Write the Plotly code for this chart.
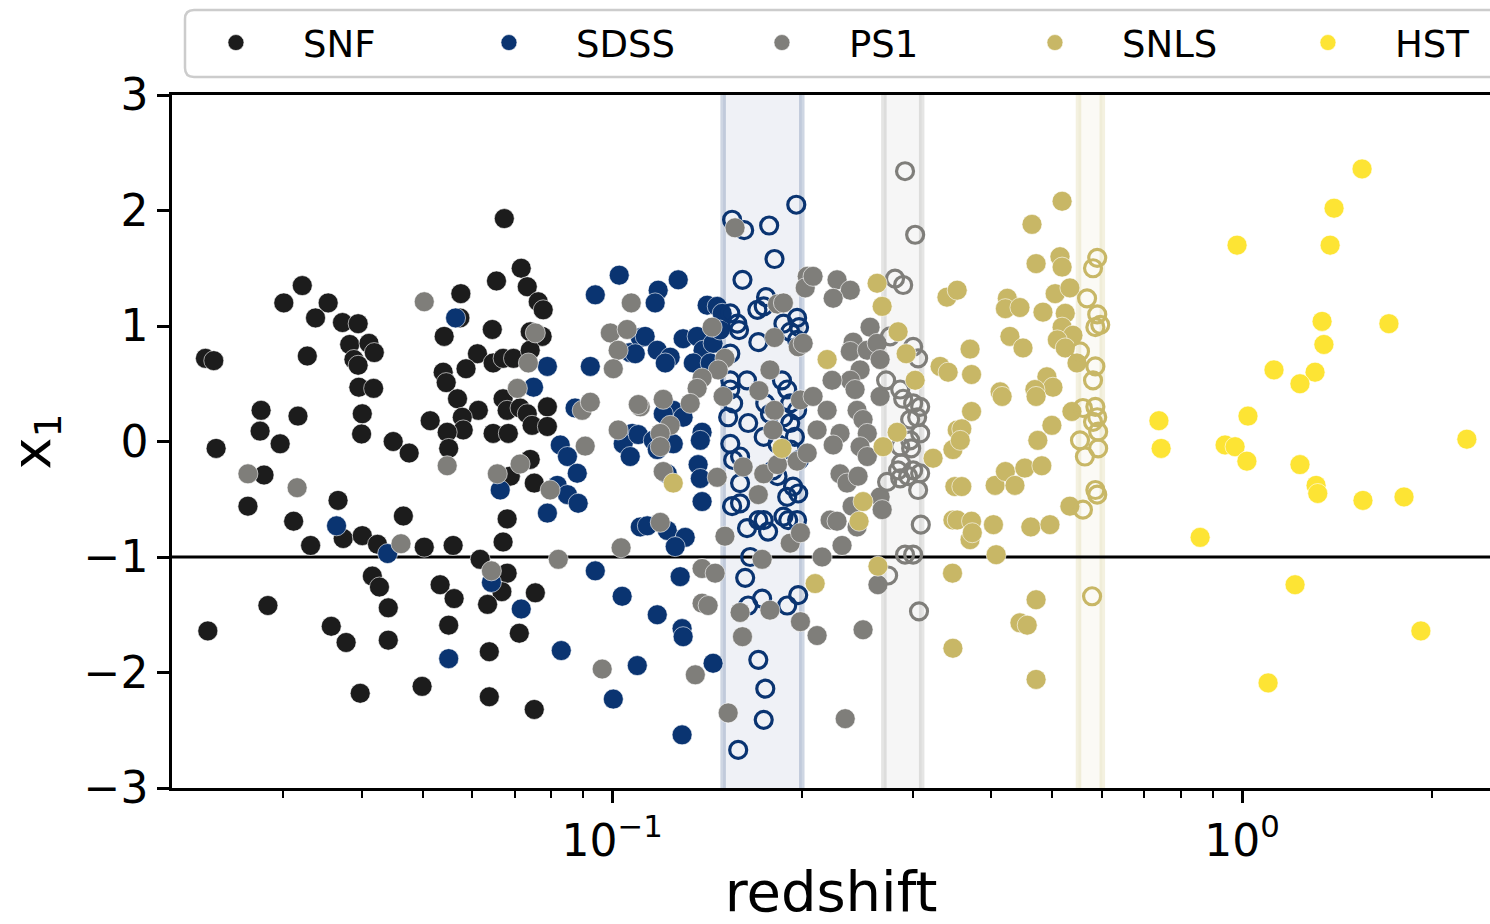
import math
import numpy as np
import plotly.graph_objects as go

# ---- survey data: redshift and SALT2 stretch x1 ----
snf_z = [0.0322, 0.0301, 0.0354, 0.0338, 0.0373, 0.0395, 0.0383, 0.0411, 0.0419, 0.0389,
         0.0395, 0.0226, 0.0233, 0.0328, 0.0396, 0.0418, 0.0277, 0.0317, 0.0401, 0.0276,
         0.0400, 0.0297, 0.0235, 0.0449, 0.0476, 0.0280, 0.0264, 0.0367, 0.0466, 0.0312,
         0.0374, 0.0401, 0.0332, 0.0424, 0.0503, 0.0416, 0.0427, 0.0284, 0.0441, 0.0228,
         0.0358, 0.0378, 0.0441, 0.0398, 0.0499, 0.0674, 0.0717, 0.0655, 0.0733, 0.0763,
         0.0777, 0.0575, 0.0573, 0.0541, 0.0645, 0.0741, 0.0774, 0.0611, 0.0586, 0.0647,
         0.0671, 0.0697, 0.0741, 0.0539, 0.0545, 0.0568, 0.0613, 0.0671, 0.0681, 0.0714,
         0.0733, 0.0789, 0.0514, 0.0578, 0.0580, 0.0547, 0.0647, 0.0684, 0.0746, 0.0789,
         0.0550, 0.0689, 0.0741, 0.0752, 0.0681, 0.0559, 0.0671, 0.0617, 0.0681, 0.0668,
         0.0533, 0.0561, 0.0634, 0.0755, 0.0550, 0.0712, 0.0638, 0.0638, 0.0752]
snf_x1 = [1.35, 1.20, 1.20, 1.07, 1.03, 1.02, 0.84, 0.85, 0.77, 0.71,
          0.66, 0.72, 0.70, 0.74, 0.47, 0.46, 0.27, 0.22, 0.24, 0.09,
          0.065, -0.02, -0.06, 0.00, -0.10, -0.29, -0.56, -0.51, -0.645, -0.69,
          -0.84, -0.815, -0.90, -0.89, -0.915, -1.165, -1.26, -1.42, -1.44, -1.64,
          -1.60, -1.74, -1.72, -2.18, -2.12, 1.93, 1.50, 1.39, 1.34, 1.21,
          1.14, 1.28, 1.07, 0.91, 0.97, 0.95, 0.91, 0.76, 0.63, 0.68,
          0.72, 0.72, 0.79, 0.60, 0.51, 0.37, 0.27, 0.37, 0.27, 0.29,
          0.24, 0.30, 0.18, 0.21, 0.10, 0.08, 0.07, 0.07, 0.14, 0.13,
          -0.06, -0.30, -0.155, -0.36, -0.67, -0.90, -0.87, -1.02, -1.14, -1.30,
          -1.24, -1.36, -1.41, -1.31, -1.59, -1.66, -1.82, -2.21, -2.32]

sdss_z = [0.0365, 0.0440, 0.0564, 0.1026, 0.0940, 0.0789, 0.0750, 0.1068, 0.1108, 0.0923,
          0.0873, 0.1076, 0.1041, 0.0827, 0.0664, 0.0818, 0.0849, 0.0883, 0.0849, 0.0880,
          0.0789, 0.0643, 0.0717, 0.0550, 0.0940, 0.1037, 0.0830, 0.1004, 0.1096, 0.1108,
          0.1273, 0.1183, 0.1170, 0.1415, 0.1468, 0.1495, 0.1128, 0.1179, 0.1236, 0.1296,
          0.1364, 0.1394, 0.1446, 0.1484, 0.1088, 0.1214, 0.1345, 0.1431, 0.1250, 0.1205,
          0.1296, 0.1389, 0.1100, 0.1162, 0.1250, 0.1068, 0.1179, 0.1380, 0.1369, 0.1380,
          0.1223, 0.1389, 0.1137, 0.1223, 0.1306, 0.1259, 0.1282, 0.1179, 0.1291, 0.1296,
          0.1446, 0.1291,
          # SNe inside the SDSS band
          0.196, 0.155, 0.162, 0.1775, 0.181, 0.161, 0.1755, 0.170, 0.174, 0.187,
          0.1966, 0.198, 0.158, 0.159, 0.154, 0.1706, 0.1917, 0.1966, 0.154, 0.154,
          0.1637, 0.154, 0.186, 0.1896, 0.1556, 0.175, 0.178, 0.187, 0.1966, 0.1917,
          0.1528, 0.1644, 0.1917, 0.154, 0.174, 0.183, 0.195, 0.1596, 0.1556, 0.1596,
          0.155, 0.1596, 0.1637, 0.1768, 0.174, 0.187, 0.1903, 0.1966, 0.1896, 0.1937,
          0.1974, 0.1706, 0.183, 0.180, 0.1656, 0.1626, 0.1644, 0.173, 0.1896, 0.1974,
          0.1706, 0.175, 0.174, 0.1585, 0.192, 0.198]
sdss_x1 = [-0.73, -0.97, 1.07, 1.44, 1.27, 0.65, 0.47, 0.77, 0.90, 0.65,
           0.29, 0.07, -0.02, -0.03, -0.42, -0.38, -0.46, -0.535, -0.13, -0.275,
           -0.62, -1.22, -1.45, -1.88, -1.12, -1.34, -1.81, -2.23, -1.94, -0.74,
           1.40, 1.31, 1.20, 1.18, 1.17, 1.11, 0.91, 0.79, 0.73, 0.89,
           0.91, 0.79, 0.85, 0.965, 0.76, 0.68, 0.68, 0.68, 0.27, 0.24,
           0.21, 0.08, 0.06, 0.01, -0.02, -0.13, -0.07, 0.01, -0.20, -0.32,
           -0.28, -0.52, -0.73, -0.77, -0.83, -0.91, -1.17, -1.50, -1.62, -1.69,
           -1.92, -2.54,
           2.05, 1.92, 1.83, 1.87, 1.58, 1.40, 1.25, 1.14, 1.17, 1.02,
           1.07, 0.99, 1.02, 0.965, 1.11, 0.86, 0.95, 0.88, 0.76, 0.53,
           0.53, 0.45, 0.53, 0.45, 0.33, 0.33, 0.24, 0.21, 0.27, 0.33,
           0.21, 0.16, 0.16, -0.02, 0.04, -0.02, 0.04, -0.13, -0.16, -0.36,
           -0.56, -0.535, -0.75, -0.78, -0.68, -0.65, -0.68, -0.68, -0.48, -0.39,
           -0.45, -0.68, -0.30, -0.25, -1.00, -1.18, -1.42, -1.36, -1.42, -1.33,
           -1.89, -2.14, -2.41, -2.67, -0.07, -0.16]

ps1_z = [0.0264, 0.0316, 0.0462, 0.0503, 0.0755, 0.0736, 0.0707, 0.0906, 0.1072, 0.0993,
         0.1056, 0.1022, 0.1004, 0.0896, 0.0923, 0.1108, 0.1022, 0.0547, 0.0657, 0.0714,
         0.0797, 0.0643, 0.0821, 0.1033, 0.0964, 0.1567, 0.183, 0.187, 0.204, 0.2025,
         0.181, 0.1974, 0.201, 0.178, 0.171, 0.1441, 0.151, 0.1473, 0.1389, 0.1364,
         0.133, 0.150, 0.1205, 0.1100, 0.1236, 0.1192, 0.181, 0.180, 0.199, 0.1192,
         0.1205, 0.1468, 0.1192, 0.151, 0.1389, 0.1457, 0.1389, 0.142, 0.1355, 0.1528,
         0.1596, 0.161, 0.178, 0.173, 0.1614, 0.174, 0.183, 0.1966, 0.1706, 0.1917,
         0.199, 0.199, 0.2084, 0.2275, 0.2388, 0.2243, 0.2567, 0.2413, 0.2388, 0.2541,
         0.2634, 0.2663, 0.2475, 0.2388, 0.2234, 0.243, 0.2663, 0.2084, 0.2194, 0.2448,
         0.2502, 0.2115, 0.230, 0.2541, 0.204, 0.2243, 0.2475, 0.2541, 0.230, 0.236,
         0.2457, 0.2663, 0.2683, 0.2404, 0.2218, 0.2275, 0.2448, 0.2317, 0.2154, 0.2642,
         0.2502, 0.2115, 0.2344,
         # SNe inside the PS1 band
         0.2917, 0.3027, 0.2812, 0.2897, 0.2762, 0.3005, 0.306, 0.2722, 0.2866, 0.2897,
         0.3005, 0.3083, 0.3049, 0.2972, 0.3083, 0.2972, 0.2866, 0.2983, 0.2732, 0.2844,
         0.2866, 0.3005, 0.3083, 0.306, 0.2875, 0.295, 0.309, 0.2917, 0.3005, 0.2742,
         0.307]
ps1_x1 = [-0.28, -0.40, -0.885, 1.21, 0.94, 0.68, 0.46, -0.04, 1.20, 0.94,
          0.97, 0.79, 0.63, 0.27, 0.34, 0.30, 0.10, -0.21, -0.28, -0.195,
          -0.42, -1.12, -1.02, -0.92, -1.97, 1.85, 1.19, 1.20, 1.43, 1.33,
          0.90, 0.82, 0.85, 0.62, 0.44, 0.99, 0.72, 0.62, 0.55, 0.46,
          0.33, 0.39, 0.365, 0.32, 0.14, 0.07, 0.27, 0.10, 0.36, -0.045,
          -0.26, -0.31, -0.70, -0.82, -1.10, -1.14, -1.40, -1.42, -2.02, -2.35,
          -1.48, -1.69, -1.46, -1.02, -0.22, -0.28, -0.20, -0.17, -0.46, -0.88,
          -0.79, -1.56, 1.43, 1.40, 1.31, 1.24, 0.99, 0.86, 0.78, 0.79,
          0.85, 0.71, 0.62, 0.53, 0.53, 0.45, 0.39, 0.39, 0.27, 0.27,
          0.19, 0.10, 0.07, 0.07, -0.10, -0.03, -0.045, -0.13, -0.28, -0.36,
          -0.30, -0.48, -0.59, -0.56, -0.68, -0.69, -0.74, -0.90, -1.00, -1.24,
          -1.63, -1.68, -2.40,
          2.34, 1.79, 1.41, 1.355, 0.91, 0.82, 0.72, 0.53, 0.45, 0.37,
          0.33, 0.30, 0.21, 0.19, 0.07, 0.01, -0.045, -0.06, -0.35, -0.25,
          -0.32, -0.25, -0.275, -0.42, -0.19, -0.30, -0.72, -0.98, -0.98, -1.16,
          -1.47]

snls_z = [0.1250, 0.186, 0.210, 0.2634, 0.2683, 0.2844, 0.2929, 0.3027, 0.2194, 0.2834,
          0.2692, 0.340, 0.353, 0.3316, 0.3415, 0.353, 0.2502, 0.2466, 0.2642, 0.3232,
          0.3475, 0.350, 0.3475, 0.347, 0.3475, 0.518, 0.464, 0.471, 0.514, 0.518,
          0.424, 0.421, 0.444, 0.483, 0.505, 0.533, 0.524, 0.518, 0.539, 0.509,
          0.524, 0.428, 0.449, 0.370, 0.372, 0.547, 0.490, 0.501, 0.469, 0.471,
          0.413, 0.416, 0.372, 0.537, 0.499, 0.359, 0.357, 0.474, 0.359, 0.4055,
          0.421, 0.436, 0.452, 0.481, 0.353, 0.372, 0.370, 0.373, 0.403, 0.462,
          0.4955, 0.407, 0.533, 0.471, 0.444, 0.456, 0.471,
          # SNe inside the SNLS band
          0.589, 0.580, 0.5675, 0.589, 0.585, 0.5955, 0.553, 0.585, 0.580, 0.559,
          0.585, 0.589, 0.580, 0.591, 0.553, 0.591, 0.563, 0.585, 0.589, 0.559,
          0.578]
snls_x1 = [-0.36, -0.06, -1.23, 1.37, 1.17, 0.95, 0.76, 0.53, 0.71, 0.08,
           -0.045, 1.25, 1.31, 0.65, 0.60, 0.10, -0.52, -0.69, -1.08, -0.145,
           -0.07, -0.39, -0.68, -1.14, -1.79, 2.08, 1.88, 1.54, 1.60, 1.51,
           1.24, 1.15, 1.16, 1.12, 1.28, 1.33, 1.11, 0.99, 0.92, 0.88,
           0.81, 0.91, 0.81, 0.80, 0.58, 0.68, 0.56, 0.47, 0.45, 0.39,
           0.43, 0.39, 0.26, 0.26, 0.14, 0.11, 0.01, 0.01, -0.39, -0.38,
           -0.26, -0.38, -0.23, -0.21, -0.68, -0.69, -0.85, -0.79, -0.72, -0.74,
           -0.72, -0.98, -0.56, -1.37, -1.57, -1.59, -2.06,
           1.59, 1.50, 1.24, 1.10, 0.99, 1.01, 0.78, 0.65, 0.53, 0.29,
           0.30, 0.21, 0.17, 0.085, 0.01, -0.06, -0.13, -0.42, -0.46, -0.59,
           -1.34]

hst_z = [1.551, 1.400, 0.982, 1.380, 1.340, 1.711, 1.349, 1.124, 1.306, 1.236,
         0.738, 1.022, 2.275, 0.744, 0.940, 0.975, 1.018, 1.236, 1.311, 1.319,
         1.556, 1.808, 0.858, 1.214, 1.923, 1.100]
hst_x1 = [2.36, 2.02, 1.70, 1.70, 1.04, 1.02, 0.84, 0.62, 0.60, 0.50,
          0.18, 0.22, 0.02, -0.06, -0.03, -0.045, -0.17, -0.20, -0.38, -0.45,
          -0.51, -0.48, -0.83, -1.24, -1.64, -2.09]

survey_names = ["SNF", "SDSS", "PS1", "SNLS", "HST"]
survey_colors = ["#1c1c1c", "#0a3471", "#7f7e7a", "#c8b766", "#fde434"]

# redshift windows highlighted for three of the surveys
band_survey = ["SDSS", "PS1", "SNLS"]
band_lo = [0.15, 0.27, 0.55]
band_hi = [0.20, 0.31, 0.60]

x1_cut = -1.0
z_range = [0.02, 2.476]
x1_range = [-3, 3]

FONT = "DejaVu Sans"
NBSP = "\u00a0"

W, H = 1490, 924
M_L, M_R, M_T, M_B = 172, 0, 95, 136
PW, PH = W - M_L - M_R, H - M_T - M_B


def rgba(hex_color, alpha):
    h = hex_color.lstrip("#")
    r, g, b = int(h[0:2], 16), int(h[2:4], 16), int(h[4:6], 16)
    return f"rgba({r},{g},{b},{alpha})"


def px_to_paper_x(px):
    return (px - M_L) / PW


def px_to_paper_y(py):
    return 1 + (M_T - py) / PH


fig = go.Figure()

# shaded redshift windows with darker edges
for name, lo, hi in zip(band_survey, band_lo, band_hi):
    col = survey_colors[survey_names.index(name)]
    fig.add_trace(go.Scatter(
        x=[lo, hi, hi, lo, lo], y=[x1_range[0], x1_range[0], x1_range[1], x1_range[1], x1_range[0]],
        mode="lines", fill="toself", fillcolor=rgba(col, 0.065),
        line=dict(width=0), hoverinfo="skip", showlegend=False))
    for edge in (lo, hi):
        fig.add_trace(go.Scatter(
            x=[edge, edge], y=x1_range, mode="lines",
            line=dict(color=rgba(col, 0.2), width=5.5),
            hoverinfo="skip", showlegend=False))

# x1 cut
fig.add_trace(go.Scatter(x=z_range, y=[x1_cut, x1_cut], mode="lines",
                         line=dict(color="black", width=3),
                         hoverinfo="skip", showlegend=False))

data = {
    "SNF": (snf_z, snf_x1),
    "SDSS": (sdss_z, sdss_x1),
    "PS1": (ps1_z, ps1_x1),
    "SNLS": (snls_z, snls_x1),
    "HST": (hst_z, hst_x1),
}

for name, col in zip(survey_names, survey_colors):
    z = np.array(data[name][0])
    x1 = np.array(data[name][1])
    if name in band_survey:
        i = band_survey.index(name)
        inside = (z >= band_lo[i]) & (z <= band_hi[i])
    else:
        inside = np.zeros(len(z), dtype=bool)
    fig.add_trace(go.Scatter(
        x=z[~inside], y=x1[~inside], mode="markers", name=NBSP * 4 + name,
        marker=dict(color=col, size=20, line=dict(color="white", width=0.6)),
        showlegend=True))
    if inside.any():
        fig.add_trace(go.Scatter(
            x=z[inside], y=x1[inside], mode="markers", name=name,
            marker=dict(symbol="circle-open", color=col, size=17,
                        line=dict(color=col, width=3.2)),
            showlegend=False))

minor_vals = [0.03, 0.04, 0.05, 0.06, 0.07, 0.08, 0.09,
              0.2, 0.3, 0.4, 0.5, 0.6, 0.7, 0.8, 0.9, 2.0]

# legend frame with rounded corners (runs off the right edge)
bx0, bx1 = px_to_paper_x(185), px_to_paper_x(1510)
by0, by1 = px_to_paper_y(77), px_to_paper_y(10)
rx, ry = 9 / PW, 9 / PH
legend_frame = (f"M {bx0 + rx},{by1} L {bx1},{by1} L {bx1},{by0} L {bx0 + rx},{by0} "
                f"Q {bx0},{by0} {bx0},{by0 + ry} L {bx0},{by1 - ry} "
                f"Q {bx0},{by1} {bx0 + rx},{by1} Z")

fig.update_layout(
    width=W, height=H,
    margin=dict(l=M_L, r=M_R, t=M_T, b=M_B, autoexpand=False),
    paper_bgcolor="white", plot_bgcolor="white",
    font=dict(family=FONT, color="black", size=44),
    showlegend=True,
    shapes=[dict(type="path", xref="paper", yref="paper", path=legend_frame,
                 line=dict(color="#cccccc", width=2.5), fillcolor="white", layer="above")],
    legend=dict(orientation="h", x=-0.0008, y=px_to_paper_y(12), xanchor="left", yanchor="top",
                borderwidth=0, bgcolor="rgba(0,0,0,0)",
                font=dict(size=37, family=FONT),
                entrywidth=183, entrywidthmode="pixels",
                indentation=45, itemsizing="trace"),
    xaxis=dict(type="log", range=[math.log10(z_range[0]), math.log10(z_range[1])],
               tickvals=[0.1, 1.0], ticktext=["10<sup>\u22121</sup>", "10<sup>0</sup>"],
               ticks="outside", ticklen=12, tickwidth=2.5, tickcolor="black",
               minor=dict(tickvals=minor_vals, ticks="outside", ticklen=7,
                          tickwidth=1.8, tickcolor="black"),
               showline=True, linecolor="black", linewidth=2.5, mirror=True,
               showgrid=False, zeroline=False,
               tickfont=dict(size=44, family=FONT),
               title=dict(text="redshift", font=dict(size=56, family=FONT), standoff=21)),
    yaxis=dict(range=x1_range, dtick=1, tick0=0,
               ticks="outside", ticklen=12, tickwidth=2.5, tickcolor="black",
               showline=True, linecolor="black", linewidth=2.5, mirror=False,
               showgrid=False, zeroline=False,
               tickfont=dict(size=44, family=FONT),
               title=dict(text="x<sub>1</sub>", font=dict(size=54, family=FONT), standoff=20)),
)

fig.write_html("out.html")
